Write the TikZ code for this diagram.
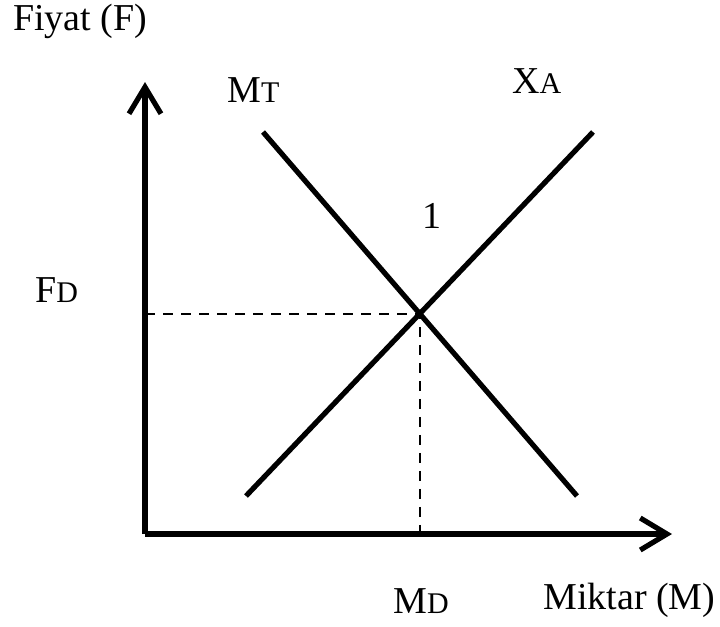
\documentclass[tikz,border=0pt]{standalone}
\usepackage{fontspec}
\setmainfont{Liberation Serif}
\usetikzlibrary{arrows.meta}
\newcommand{\smc}[1]{{\fontsize{22.5}{25}\selectfont #1}}
\tikzset{
  lbl/.style={inner sep=0pt, anchor=base west, font=\fontsize{28.5}{31}\selectfont},
  axis/.style={line width=3.9pt, -{Straight Barb[length=20pt,width=24pt]}},
  curve/.style={line width=3.9pt},
  guide/.style={line width=1.2pt, dash pattern=on 7.5pt off 6pt}
}
\begin{document}
\begin{tikzpicture}[x=0.75pt,y=-0.75pt]
\useasboundingbox (0,0) rectangle (720,626);
\coordinate (O) at (145,534);
\coordinate (Ytip) at (145,82);
\coordinate (Xtip) at (672,534);
\coordinate (mt1) at (263,132);
\coordinate (mt2) at (577,496);
\coordinate (xa1) at (246,496);
\coordinate (xa2) at (593,132);
\coordinate (E) at (intersection of mt1--mt2 and xa1--xa2);
\coordinate (Ey) at (O |- E);
\coordinate (Ex) at (E |- O);
\draw[axis] (O) -- (Ytip);
\draw[axis] (O) -- (Xtip);
\draw[guide] (Ey) -- (E) -- (Ex);
\draw[curve] (mt1) -- (mt2);
\draw[curve] (xa1) -- (xa2);
\node[lbl] (fiyat) at (13,30) {Fiyat (F)};
\node[lbl] (mt) at (227,102) {M\smc{T}};
\node[lbl] (xa) at (512,93) {X\smc{A}};
\node[lbl] (one) at (422,228) {1};
\node[lbl] (fd) at (35,302) {F\smc{D}};
\node[lbl] (md) at (393,613) {M\smc{D}};
\node[lbl] (miktar) at (543,609) {Miktar (M)};
\end{tikzpicture}
\end{document}
